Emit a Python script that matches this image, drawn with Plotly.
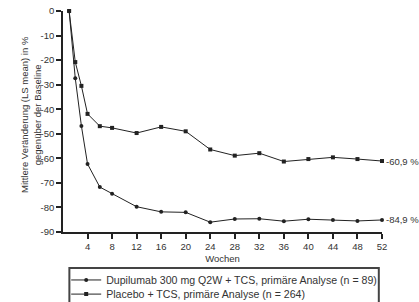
import plotly.graph_objects as go

weeks = [1, 2, 3, 4, 6, 8, 12, 16, 20, 24, 28, 32, 36, 40, 44, 48, 52]
dupilumab = [0, -27.4, -46.8, -62.3, -71.7, -74.4, -79.7, -81.8, -82.0, -86.0,
             -84.7, -84.6, -85.6, -84.8, -85.1, -85.5, -85.1]
placebo = [0, -20.8, -30.5, -41.9, -46.9, -47.6, -49.7, -47.2, -49.0, -56.4,
           -58.9, -57.9, -61.3, -60.3, -59.6, -60.3, -61.1]
x_ticks = [4, 8, 12, 16, 20, 24, 28, 32, 36, 40, 44, 48, 52]
y_ticks = [0, -10, -20, -30, -40, -50, -60, -70, -80, -90]
end_labels = ["-84,9 %", "-60,9 %"]
series_names = ["Dupilumab 300 mg Q2W + TCS, primäre Analyse (n = 89)",
                "Placebo + TCS, primäre Analyse (n = 264)"]

FONT = "Arial, Liberation Sans, sans-serif"
TXT = "#333333"
LINE = "#222222"

fig = go.Figure()
fig.add_trace(go.Scatter(
    x=weeks, y=dupilumab, mode="lines+markers", name=series_names[0],
    line=dict(color=LINE, width=1),
    marker=dict(symbol="circle", size=4, color=LINE),
    cliponaxis=False, legend="legend",
))
fig.add_trace(go.Scatter(
    x=weeks, y=placebo, mode="lines+markers", name=series_names[1],
    line=dict(color=LINE, width=1),
    marker=dict(symbol="square", size=4, color=LINE),
    cliponaxis=False, legend="legend2",
))

for yv, lab in zip([dupilumab[-1], placebo[-1]], end_labels):
    fig.add_annotation(x=weeks[-1], y=yv, text=lab, showarrow=False,
                       xanchor="left", yanchor="middle", xshift=2,
                       font=dict(family=FONT, size=9.5, color=TXT))

fig.add_annotation(xref="paper", yref="paper", x=-0.1, y=0.53,
                   text="Mittlere Veränderung (LS mean) in %<br>gegenüber der Baseline",
                   textangle=-90, showarrow=False, xanchor="center", yanchor="middle",
                   font=dict(family=FONT, size=9.5, color=TXT))

# legend frame
fig.add_shape(type="rect", xref="paper", yref="paper",
              x0=0.02, x1=0.99, y0=-0.33, y1=-0.163,
              line=dict(color="#444444", width=2), fillcolor="rgba(0,0,0,0)")

leg_common = dict(xanchor="left", yanchor="middle", borderwidth=0,
                  bgcolor="rgba(0,0,0,0)",
                  font=dict(family=FONT, size=10.6, color=TXT))

fig.update_layout(
    width=419, height=302,
    margin=dict(l=63, r=37, t=11, b=70, autoexpand=False),
    paper_bgcolor="white", plot_bgcolor="white",
    font=dict(family=FONT, size=9.5, color=TXT),
    showlegend=True,
    legend=dict(x=0.01, y=-0.217, **leg_common),
    legend2=dict(x=0.01, y=-0.281, **leg_common),
    xaxis=dict(
        range=[0, 52], tickmode="array", tickvals=x_ticks,
        ticktext=[str(v) for v in x_ticks],
        showgrid=False, zeroline=False, showline=True,
        linecolor=LINE, linewidth=1.5, ticks="outside", ticklen=5,
        tickcolor=LINE, tickwidth=1.5, ticklabeloverflow="allow",
        title=dict(text="Wochen", standoff=4, font=dict(size=9.5, color=TXT)),
    ),
    yaxis=dict(
        range=[-90, 0], tickmode="array", tickvals=y_ticks,
        ticktext=[str(v) for v in y_ticks],
        showgrid=False, zeroline=False, showline=True,
        linecolor=LINE, linewidth=1.5, ticks="outside", ticklen=5,
        tickcolor=LINE, tickwidth=1.5, ticklabeloverflow="allow",
    ),
)

# remove the page's default body margin so the figure sits at the window's corner
fig.write_html("out.html", config={"displayModeBar": False},
               post_script="document.body.style.margin='0px';")
